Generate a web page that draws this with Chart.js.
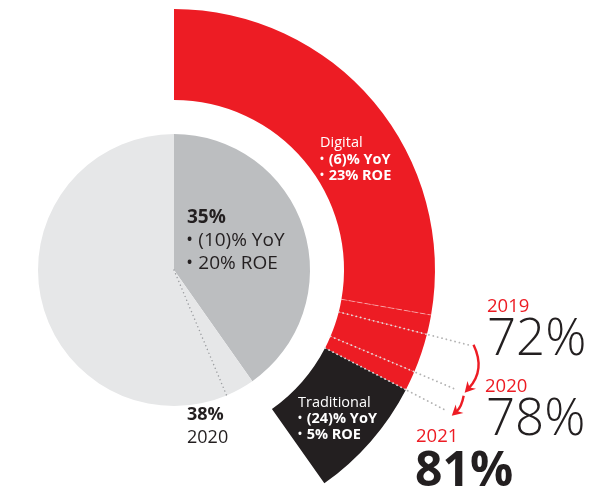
<!DOCTYPE html>
<html>
<head>
<meta charset="utf-8">
<script src="https://cdn.jsdelivr.net/npm/chart.js@4.4.1/dist/chart.umd.min.js"></script>
<style>
  html, body { margin: 0; padding: 0; background: #fff; overflow: hidden; }
  #wrap { position: relative; width: 602px; height: 493px; font-family: "Open Sans", sans-serif; }
  #chart { position: absolute; left: 0; top: 0; }
  .lbl { position: absolute; white-space: nowrap; line-height: 1; }
  .dot { display: inline-block; font-size: 0.72em; vertical-align: 0.12em; margin-right: 0.45em; font-weight: 700; }
</style>
</head>
<body>
<div id="wrap">
  <canvas id="chart" width="602" height="493"></canvas>
</div>
<script>
// share of the segment (inner pie)
const shareYears = ["2020", "2021"];
const shareValues = [38, 35];
const restValue = 49;

// digital share of that segment (outer ring)
const digitalYears = ["2019", "2020", "2021"];
const digitalValues = [72, 78, 81];
const digitalGuide = 69;

const RED = "#ed1c24";
const BLACK = "#231f20";
const DARK_GREY = "#bcbec0";
const LIGHT_GREY = "#e6e7e8";

const share2021 = shareValues[1];
const total = shareValues[0] + restValue;

// pie: 2021 share, extra 2020 share, rest
const pieData = [share2021, shareValues[0] - share2021, restValue];

// ring: the 2021 slice split at each digital value, then the empty remainder
const breaks = [digitalGuide].concat(digitalValues, [100]);
const ringData = breaks.map((b, i) => (b - (i ? breaks[i - 1] : 0)) * share2021 / 100);
ringData.push(total - share2021);
const ringColors = [RED, RED, RED, RED, BLACK, "rgba(0,0,0,0)"];

const lines = {
  id: "lines",
  afterDatasetsDraw(chart) {
    const ctx = chart.ctx;
    const ring = chart.getDatasetMeta(0).data;
    const pie = chart.getDatasetMeta(2).data;
    const cx = ring[0].x, cy = ring[0].y;
    const rIn = ring[0].innerRadius, rOut = ring[0].outerRadius;
    const pt = (a, r) => [cx + r * Math.cos(a), cy + r * Math.sin(a)];

    function radial(a, r0, r1, color, dash, width) {
      const p0 = pt(a, r0), p1 = pt(a, r1);
      ctx.save();
      ctx.strokeStyle = color;
      ctx.lineWidth = width;
      ctx.lineCap = "round";
      ctx.setLineDash(dash);
      ctx.beginPath();
      ctx.moveTo(p0[0], p0[1]);
      ctx.lineTo(p1[0], p1[1]);
      ctx.stroke();
      ctx.restore();
    }

    // faint guide inside the red band
    radial(ring[0].endAngle, rIn, rOut, "rgba(255,255,255,0.45)", [5, 3], 1);

    // dotted year boundaries, carried out past the ring
    const leadR = rOut + 46;
    const ends = [];
    for (let i = 1; i <= 3; i++) {
      const a = ring[i].endAngle;
      radial(a, rIn, rOut, "rgba(225,225,225,0.95)", [0.1, 4.4], 1.8);
      radial(a, rOut + 2, leadR, "#b3b3b3", [0.1, 4.4], 1.8);
      ends.push(pt(a, leadR));
    }

    // 2020 share marker inside the pie
    radial(pie[1].endAngle, 0, pie[1].outerRadius, "#9d9fa2", [0.1, 4], 1.5);

    // red arrows between the year lines
    function arrow(x0, y0, qx, qy, x1, y1) {
      ctx.save();
      ctx.strokeStyle = RED;
      ctx.fillStyle = RED;
      ctx.lineWidth = 2.4;
      const ang = Math.atan2(y1 - qy, x1 - qx);
      const hl = 12;
      const bx = x1 - hl * 0.55 * Math.cos(ang), by = y1 - hl * 0.55 * Math.sin(ang);
      ctx.beginPath();
      ctx.moveTo(x0, y0);
      ctx.quadraticCurveTo(qx, qy, bx, by);
      ctx.stroke();
      ctx.beginPath();
      ctx.moveTo(x1, y1);
      ctx.lineTo(x1 - hl * Math.cos(ang - 0.5), y1 - hl * Math.sin(ang - 0.5));
      ctx.lineTo(x1 - hl * 0.6 * Math.cos(ang), y1 - hl * 0.6 * Math.sin(ang));
      ctx.lineTo(x1 - hl * Math.cos(ang + 0.5), y1 - hl * Math.sin(ang + 0.5));
      ctx.closePath();
      ctx.fill();
      ctx.restore();
    }
    const [e1, e2, e3] = ends;
    arrow(e1[0] + 2, e1[1] - 1, e1[0] + 14, e1[1] + 24, e2[0] + 8, e2[1] + 3);
    arrow(e2[0] + 7, e2[1] + 6, e2[0] + 5, e2[1] + 17, e3[0] + 5, e3[1] + 5);
  }
};

new Chart(document.getElementById("chart"), {
  type: "doughnut",
  data: {
    datasets: [
      { data: ringData, backgroundColor: ringColors, borderWidth: 0, weight: 91, clip: false },
      { data: [1], backgroundColor: ["rgba(0,0,0,0)"], borderWidth: 0, weight: 34, clip: false },
      { data: pieData, backgroundColor: [DARK_GREY, LIGHT_GREY, LIGHT_GREY], borderWidth: 0, weight: 136, clip: false }
    ]
  },
  options: {
    responsive: false,
    animation: false,
    events: [],
    radius: 261,
    cutout: 0,
    layout: { padding: { left: 0, right: 254, top: 47, bottom: 0 } },
    plugins: { legend: { display: false }, tooltip: { enabled: false } }
  },
  plugins: [lines]
});

// text labels: [text, left, baseline, size, weight, colour, bullet]
const labels = [
  ["Digital", 320, 148, 14.5, 400, "#fff"],
  ["(6)% YoY", 320, 164.5, 14.5, 700, "#fff", true],
  ["23% ROE", 320, 180.5, 14.5, 700, "#fff", true],
  [share2021 + "%", 187, 224, 19, 700, BLACK],
  ["(10)% YoY", 187, 247, 19, 400, BLACK, true],
  ["20% ROE", 187, 269.5, 19, 400, BLACK, true],
  [shareValues[0] + "%", 187, 420, 18, 700, BLACK],
  [shareYears[0], 187, 443, 18, 400, BLACK],
  ["Traditional", 298, 408, 14.5, 400, "#fff"],
  ["(24)% YoY", 298, 423.5, 14.5, 700, "#fff", true],
  ["5% ROE", 298, 439.5, 14.5, 700, "#fff", true],
  [digitalYears[0], 487, 312, 18.5, 400, RED],
  [digitalValues[0] + "%", 487, 355, 51, 300, BLACK],
  [digitalYears[1], 485, 392, 18.5, 400, RED],
  [digitalValues[1] + "%", 486, 435, 51, 300, BLACK],
  [digitalYears[2], 416, 442, 18.5, 400, RED],
  [digitalValues[2] + "%", 415, 487, 48, 700, BLACK]
];
const wrap = document.getElementById("wrap");
for (const [text, x, base, size, weight, color, bullet] of labels) {
  const d = document.createElement("div");
  d.className = "lbl";
  if (bullet) {
    const b = document.createElement("span");
    b.className = "dot";
    b.textContent = "\u2022";
    d.appendChild(b);
  }
  d.appendChild(document.createTextNode(text));
  d.style.left = x + "px";
  d.style.top = (base - 0.888 * size) + "px";
  d.style.fontSize = size + "px";
  d.style.fontWeight = weight;
  d.style.color = color;
  wrap.appendChild(d);
}
</script>
</body>
</html>
